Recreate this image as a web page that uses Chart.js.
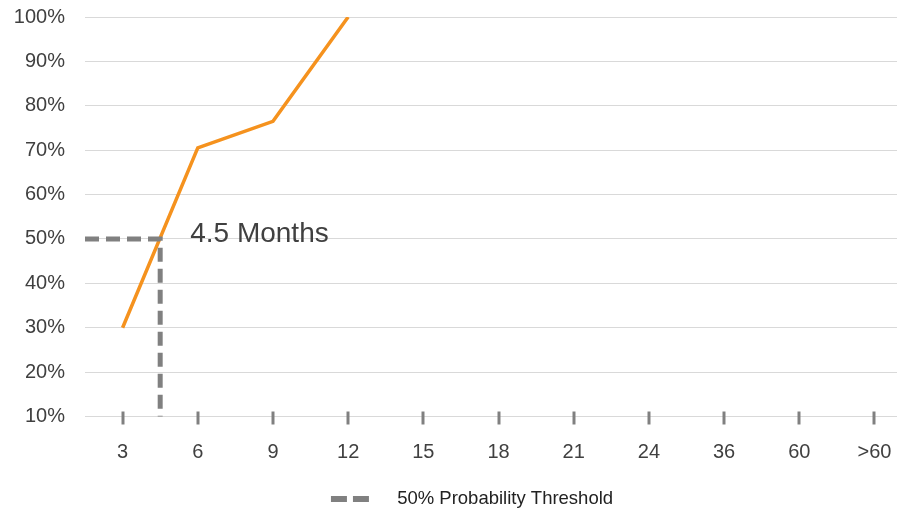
<!DOCTYPE html>
<html>
<head>
<meta charset="utf-8">
<script src="https://cdn.jsdelivr.net/npm/chart.js@4/dist/chart.umd.min.js"></script>
<style>
  html, body { margin: 0; padding: 0; background: #fff; }
  #wrap { width: 897px; height: 511px; }
</style>
</head>
<body>
<div id="wrap"><canvas id="grafico"></canvas></div>
<script>
// categorias del eje x (meses)
const meses = ["3", "6", "9", "12", "15", "18", "21", "24", "36", "60", ">60"];
// probabilidad acumulada (%) para los primeros meses
const probabilidad = [30, 70.5, 76.5, 100];
// umbral 50% -> 4.5 meses (entre "3" y "6")
const umbralPct = 50;
const umbralPos = 1.5;
const umbralTexto = "4.5 Months";
const ticksY = [10, 20, 30, 40, 50, 60, 70, 80, 90, 100];

const fuente = "'Liberation Sans', Arial, Helvetica, sans-serif";
const gris = "#808080";

// muestra de leyenda: dos guiones con margen transparente
function muestraLeyenda() {
  const c = document.createElement("canvas");
  c.width = 104; c.height = 6;
  const g = c.getContext("2d");
  g.fillStyle = gris;
  g.fillRect(47, 0, 16, 6);
  g.fillRect(69, 0, 16, 6);
  return c;
}

const marcasX = {
  id: "marcasX",
  afterDatasetsDraw(chart) {
    const { ctx, scales } = chart;
    const x = scales.x, y = scales.y;
    const base = y.getPixelForValue(ticksY[0]);
    ctx.save();
    ctx.strokeStyle = gris;
    ctx.lineWidth = 3;
    meses.forEach((m, i) => {
      const px = Math.round(x.getPixelForValue(i + 1));
      ctx.beginPath();
      ctx.moveTo(px, base - 5);
      ctx.lineTo(px, base + 8);
      ctx.stroke();
    });
    ctx.fillStyle = "#404040";
    ctx.font = "28px " + fuente;
    ctx.textBaseline = "middle";
    ctx.fillText(umbralTexto, x.getPixelForValue(umbralPos) + 30, y.getPixelForValue(umbralPct) - 5);
    ctx.restore();
  }
};

new Chart(document.getElementById("grafico").getContext("2d"), {
  type: "scatter",
  data: {
    datasets: [
      {
        label: "Probabilidad",
        data: probabilidad.map((v, i) => ({ x: i + 1, y: v })),
        showLine: true,
        borderColor: "#F5921E",
        borderWidth: 3.5,
        pointRadius: 0,
        tension: 0,
        order: 2
      },
      {
        label: "50% Probability Threshold",
        data: [
          { x: 0.5, y: umbralPct },
          { x: umbralPos, y: umbralPct },
          { x: umbralPos, y: ticksY[0] }
        ],
        showLine: true,
        borderColor: gris,
        backgroundColor: gris,
        borderWidth: 5,
        borderDash: [14, 7],
        pointRadius: 0,
        clip: false,
        order: 1
      }
    ]
  },
  options: {
    responsive: true,
    maintainAspectRatio: false,
    animation: false,
    layout: { padding: { top: 17, right: 0, left: 0, bottom: -7 } },
    plugins: {
      tooltip: { enabled: false },
      legend: {
        position: "bottom",
        labels: {
          filter: item => item.datasetIndex === 1,
          usePointStyle: true,
          pointStyle: muestraLeyenda(),
          pointStyleWidth: 104,
          padding: 0,
          color: "#222",
          font: { family: fuente, size: 18.5 }
        }
      }
    },
    scales: {
      x: {
        type: "linear",
        min: 0.5,
        max: 11.3,
        afterBuildTicks: s => { s.ticks = meses.map((m, i) => ({ value: i + 1 })); },
        afterFit: s => { s.height = 73; s.paddingRight = 0; s.paddingLeft = 0; },
        grid: { display: false },
        border: { display: false },
        ticks: {
          padding: 16,
          maxRotation: 0,
          autoSkip: false,
          color: "#404040",
          font: { family: fuente, size: 20 },
          callback: v => meses[v - 1] ?? ""
        }
      },
      y: {
        min: 10,
        max: 100,
        afterBuildTicks: s => { s.ticks = ticksY.map(v => ({ value: v })); },
        afterFit: s => { s.width = 85; s.paddingTop = 0; s.paddingBottom = 0; },
        grid: { color: "#d9d9d9", lineWidth: 1, drawTicks: false },
        border: { display: false },
        ticks: {
          padding: 20,
          color: "#404040",
          font: { family: fuente, size: 20 },
          callback: v => v + "%"
        }
      }
    }
  },
  plugins: [marcasX]
});
</script>
</body>
</html>
